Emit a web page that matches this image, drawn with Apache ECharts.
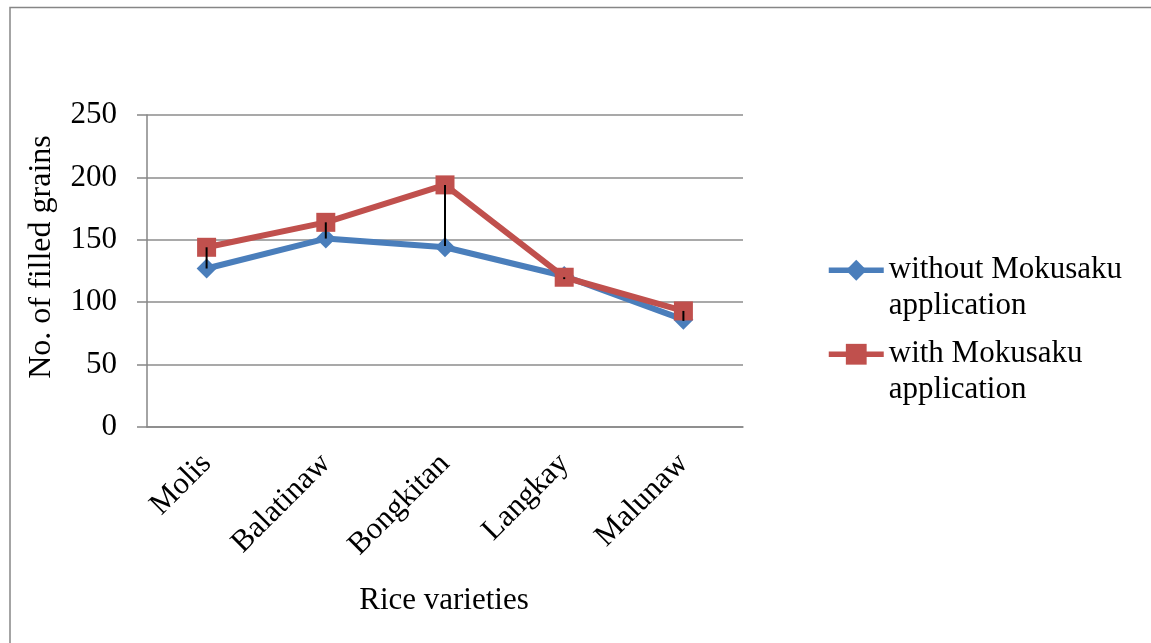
<!DOCTYPE html>
<html>
<head>
<meta charset="utf-8">
<script src="https://cdn.jsdelivr.net/npm/echarts@6/dist/echarts.min.js"></script>
<style>
html,body{margin:0;padding:0;background:#fff;}
#chart{width:1151px;height:643px;}
</style>
</head>
<body>
<div id="chart"></div>
<script>
var categories = ['Molis', 'Balatinaw', 'Bongkitan', 'Langkay', 'Malunaw'];
var withoutMokusaku = [127, 151, 144, 121, 86];
var withMokusaku = [144, 164, 194, 120, 93];
var errorMinus = [17, 13, 49, 1.5, 8];
var yTicks = {min: 0, max: 250, interval: 50};
var seriesNames = ['without Mokusaku application', 'with Mokusaku application'];
var legendLines = [['without Mokusaku', 'application'], ['with Mokusaku', 'application']];

var FONT = 'Liberation Serif';
var chart = echarts.init(document.getElementById('chart'));

var errData = withMokusaku.map(function (v, i) { return [i, v, v - errorMinus[i]]; });

var legendText = {fontFamily: FONT, fontSize: 31, color: '#000', lineHeight: 35.5};

function legendFormatter(name) {
  var idx = seriesNames.indexOf(name);
  return '\n' + legendLines[idx].join('\n');
}

chart.setOption({
  animation: false,
  backgroundColor: '#fff',
  grid: {left: 147, right: 408, top: 115, bottom: 216, containLabel: false},
  legend: [
    {data: [seriesNames[0]], orient: 'vertical', left: 826, top: 217, padding: 0,
     itemWidth: 55, itemHeight: 26, formatter: legendFormatter, textStyle: legendText,
     lineStyle: {width: 5.5}},
    {data: [seriesNames[1]], orient: 'vertical', left: 826, top: 301, padding: 0,
     itemWidth: 55, itemHeight: 26, formatter: legendFormatter, textStyle: legendText,
     lineStyle: {width: 5.5}}
  ],
  xAxis: {
    type: 'category',
    data: categories,
    boundaryGap: true,
    axisLine: {show: true, lineStyle: {color: '#868686', width: 1.5}},
    axisTick: {show: false},
    axisLabel: {rotate: 45, margin: 32, fontFamily: FONT, fontSize: 31, color: '#000', interval: 0}
  },
  yAxis: {
    type: 'value',
    min: yTicks.min, max: yTicks.max, interval: yTicks.interval,
    axisLine: {show: true, lineStyle: {color: '#868686', width: 1.5}},
    axisTick: {show: true, length: 10, lineStyle: {color: '#868686', width: 1.5}},
    axisLabel: {margin: 30, fontFamily: FONT, fontSize: 31, color: '#000'},
    splitLine: {show: true, lineStyle: {color: '#8c8c8c', width: 1.5}}
  },
  graphic: [
    {type: 'rect', shape: {x: 10, y: 7.5, width: 1200, height: 700}, silent: true,
     style: {fill: 'none', stroke: '#868686', lineWidth: 1.5}, z: -10},
    {type: 'text', x: 42, y: 257, rotation: Math.PI / 2,
     style: {text: 'No. of filled grains', fontFamily: FONT, fontSize: 32, fill: '#000',
             align: 'center', verticalAlign: 'middle'}},
    {type: 'text', x: 444, y: 601,
     style: {text: 'Rice varieties', fontFamily: FONT, fontSize: 31, fill: '#000',
             align: 'center', verticalAlign: 'middle'}}
  ],
  series: [
    {
      name: seriesNames[0], type: 'line', data: withoutMokusaku,
      symbol: 'diamond', symbolSize: 20,
      lineStyle: {color: '#4a7ebb', width: 6},
      itemStyle: {color: '#4a7ebb'}, z: 2
    },
    {
      name: seriesNames[1], type: 'line', data: withMokusaku,
      symbol: 'rect', symbolSize: 19,
      lineStyle: {color: '#c0504d', width: 6},
      itemStyle: {color: '#c0504d'}, z: 3
    },
    {
      name: 'error', type: 'custom', data: errData, z: 5,
      renderItem: function (params, api) {
        var p1 = api.coord([api.value(0), api.value(1)]);
        var p2 = api.coord([api.value(0), api.value(2)]);
        return {type: 'line', shape: {x1: p1[0], y1: p1[1], x2: p2[0], y2: p2[1]},
                style: {stroke: '#000', lineWidth: 2}};
      }
    }
  ]
});
</script>
</body>
</html>
